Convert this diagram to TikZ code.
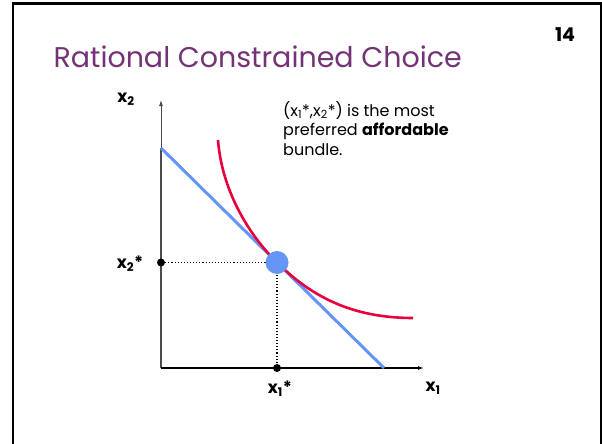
\documentclass[tikz,border=0pt]{standalone}
\usepackage{fontspec}
\setmainfont{Poppins}
\usetikzlibrary{arrows.meta,positioning}
\definecolor{titlepurple}{RGB}{115,52,118}
\definecolor{budgetblue}{RGB}{100,150,245}
\definecolor{indiffred}{RGB}{232,0,60}

\begin{document}
\begin{tikzpicture}[x=1pt, y=-1pt, font=\fontsize{16}{19.5}\selectfont,
    axislabel/.style={font=\fontsize{17}{19}\selectfont\bfseries},
    blackdot/.style={circle, fill=black, inner sep=0pt, minimum size=8pt},
    optimum/.style={circle, fill=budgetblue, inner sep=0pt, minimum size=23pt}]
    \useasboundingbox (0,0) rectangle (602,444);
    % Slide frame and title
    \draw[line width=2.5pt] (13,470) -- (13,3.5) -- (601,3.5) -- (601,470);
    \node[anchor=base west, text=titlepurple, font=\fontsize{28.5}{32}\selectfont] (title) at (50,67) {Rational Constrained Choice};
    \node[font=\fontsize{19}{21}\selectfont\bfseries] (pagenum) at (565,35) {14};

    % Axes
    \coordinate (O) at (161,368);
    \coordinate (ytop) at (161,100);
    \coordinate (xend) at (424,368);
    \coordinate (A) at (161,148);
    \coordinate (B) at (384,368);
    \coordinate (opt) at (277,262.5);
    \draw[-{Latex[length=6pt,width=4pt]}, line width=0.8pt, black!70] (O) -- (ytop);
    \draw[line width=2.6pt, black!70] (O) -- (A);
    \draw[-{Latex[length=6pt,width=4pt]}, line width=1.4pt] (O) -- (xend);

    % Budget line and indifference curve
    \draw[budgetblue, line width=3pt] (A) -- (B);
    \draw[indiffred, line width=2.6pt] (218,140) .. controls (222,192) and (250,236) .. (opt)
        .. controls (310,295) and (350,318) .. (413,318);

    % Optimal bundle
    \node[blackdot] (x2dot) at (161,262.5) {};
    \node[blackdot] (x1dot) at (277,368) {};
    \draw[dotted, line width=1.1pt] (x2dot) -- (opt);
    \draw[dotted, line width=1.1pt] (opt) -- (x1dot);
    \node[optimum] (bundle) at (opt) {};

    % Labels
    \node[axislabel] (x2lab) at (126,99) {x\textsubscript{2}};
    \node[axislabel] (x1lab) at (433,388) {x\textsubscript{1}};
    \node[axislabel] (x2star) at (130,264) {x\textsubscript{2}*};
    \node[axislabel] (x1star) at (280,389) {x\textsubscript{1}*};
    \node[anchor=north west, align=left, inner sep=0pt] (note) at (283,101)
        {(x\textsubscript{1}*,x\textsubscript{2}*) is the most\\preferred \textbf{affordable}\\bundle.};
\end{tikzpicture}
\end{document}
